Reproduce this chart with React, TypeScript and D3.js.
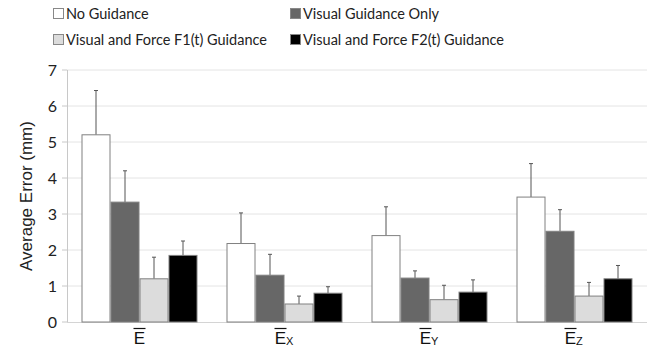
import * as React from "react"
import * as d3 from "d3"

const categories = ["E", "Ex", "Ey", "Ez"]
const subscripts = ["", "X", "Y", "Z"]
const seriesNames = [
  "No Guidance",
  "Visual Guidance Only",
  "Visual and Force F1(t) Guidance",
  "Visual and Force F2(t) Guidance",
]
const seriesColors = ["#ffffff", "#676767", "#dcdcdc", "#000000"]

// mean values per series, one entry per category
const noGuidance = [5.2, 2.18, 2.4, 3.47]
const visualOnly = [3.33, 1.3, 1.22, 2.52]
const forceF1 = [1.2, 0.5, 0.62, 0.72]
const forceF2 = [1.85, 0.8, 0.83, 1.2]

// upper error (standard deviation)
const errNoGuidance = [1.23, 0.85, 0.8, 0.93]
const errVisualOnly = [0.87, 0.58, 0.2, 0.6]
const errForceF1 = [0.6, 0.22, 0.4, 0.38]
const errForceF2 = [0.4, 0.18, 0.34, 0.37]

const yTicks = [0, 1, 2, 3, 4, 5, 6, 7]

const values = [noGuidance, visualOnly, forceF1, forceF2]
const errors = [errNoGuidance, errVisualOnly, errForceF1, errForceF2]

export default function App() {
  const width = 659
  const height = 353
  const margin = { top: 70, right: 12, bottom: 31, left: 67 }
  const innerW = width - margin.left - margin.right
  const innerH = height - margin.top - margin.bottom

  const x0 = d3.scaleBand().domain(categories).range([0, innerW]).paddingInner(0).paddingOuter(0)
  const x1 = d3
    .scaleBand()
    .domain(seriesNames)
    .range([0, x0.bandwidth()])
    .paddingOuter(0.5)
    .paddingInner(0)
  const y = d3.scaleLinear().domain([0, 7]).range([innerH, 0])

  const font = "Lato, 'Open Sans', sans-serif"
  const arial = "'Liberation Sans', Arial, sans-serif"

  return (
    <svg width={width} height={height} style={{ position: "absolute", left: 0, top: 0 }}>
      <rect width={width} height={height} fill="#fff" />
      {/* legend */}
      {seriesNames.map((name, i) => {
        const lx = i % 2 === 0 ? 53 : 290
        const ly = i < 2 ? 14 : 40
        return (
          <g key={name} transform={`translate(${lx},${ly})`}>
            <rect x={0.5} y={-5.5} width={10} height={10} fill={seriesColors[i]} stroke="#888" strokeWidth={1} />
            <text x={13} y={0} dy="0.36em" fontFamily={font} fontSize={14.5} fill="#222">
              {name}
            </text>
          </g>
        )
      })}

      <g transform={`translate(${margin.left},${margin.top})`}>
        {yTicks.map((t) => (
          <g key={t}>
            {t > 0 && (
              <line x1={0} x2={innerW} y1={y(t)} y2={y(t)} stroke="#e4e4e4" strokeWidth={1} />
            )}
            <line x1={-5} x2={0} y1={y(t)} y2={y(t)} stroke="#c8c8c8" />
            <text x={-10} y={y(t)} dy="0.35em" textAnchor="end" fontFamily={font} fontSize={16} fill="#222">
              {t}
            </text>
          </g>
        ))}
        <line x1={0.5} x2={0.5} y1={0} y2={innerH} stroke="#c8c8c8" />
        <line x1={0} x2={innerW} y1={innerH + 0.5} y2={innerH + 0.5} stroke="#d4d4d4" />

        {categories.map((c, ci) => {
          const ex = subscripts[ci] ? -4 : 0
          return (
            <g key={c} transform={`translate(${x0(c)},0)`}>
              {seriesNames.map((s, si) => {
                const v = values[si][ci]
                const e = errors[si][ci]
                const bx = x1(s) as number
                const bw = x1.bandwidth()
                const cx = bx + bw / 2
                return (
                  <g key={s}>
                    <line x1={cx} x2={cx} y1={y(v)} y2={y(v + e)} stroke="#555" strokeWidth={1} />
                    <line x1={cx - 2} x2={cx + 2} y1={y(v + e)} y2={y(v + e)} stroke="#555" strokeWidth={1} />
                    <rect
                      x={bx + 0.5}
                      y={y(v)}
                      width={bw - 1}
                      height={innerH - y(v)}
                      fill={seriesColors[si]}
                      stroke="#808080"
                      strokeWidth={1}
                    />
                  </g>
                )
              })}
              <g transform={`translate(${x0.bandwidth() / 2},${innerH + 16})`}>
                <text x={ex} y={0} dy="0.35em" textAnchor="middle" fontFamily={arial} fontSize={17} fill="#111">
                  E
                </text>
                <line x1={ex - 6} x2={ex + 6} y1={-9.5} y2={-9.5} stroke="#111" strokeWidth={1.2} />
                {subscripts[ci] && (
                  <text x={1.5} y={3} dy="0.35em" fontFamily={arial} fontSize={11} fill="#111">
                    {subscripts[ci]}
                  </text>
                )}
              </g>
            </g>
          )
        })}
      </g>

      <text
        transform={`translate(26,${margin.top + innerH / 2}) rotate(-90)`}
        textAnchor="middle"
        dy="0.35em"
        fontFamily={arial}
        fontSize={17}
        fill="#222"
      >
        Average Error (mm)
      </text>
    </svg>
  )
}
